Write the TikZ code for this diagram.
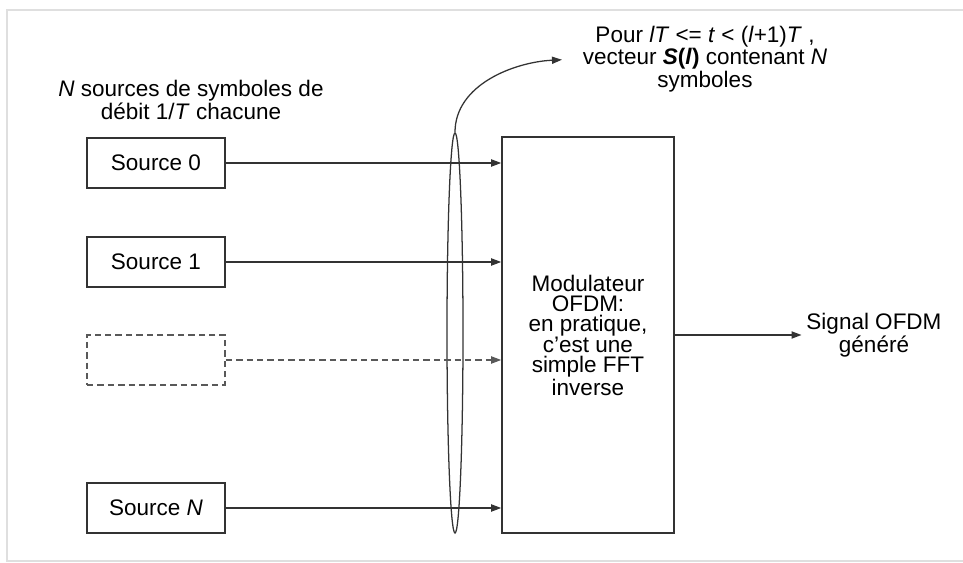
\documentclass[tikz,border=0pt]{standalone}
\usepackage{fontspec}
\setmainfont{Liberation Sans}
\usepackage{tikz}
\usetikzlibrary{arrows.meta, positioning, shapes.geometric}

\begin{document}
\begin{tikzpicture}[
	x=0.025cm, y=-0.025cm,
	font=\fontsize{16}{14.5}\selectfont,
	source/.style={
		rectangle,
		draw=black!80,
		line width=1.1pt,
		minimum width=3.45cm,
		minimum height=1.25cm,
		text centered,
		align=center
	},
	link/.style={
		draw=black!80,
		line width=0.9pt,
		-{Triangle[length=0.25cm,width=0.18cm]}
	},
	dashedline/.style={
		draw=black!65,
		dash pattern=on 0.16cm off 0.1cm
	}
	]
	
	% Frame
	\useasboundingbox (0,0) rectangle (963,563);
	\draw[gray!25, line width=1.5pt] (963,10) -- (7,10) -- (7,561) -- (963,561);
	
	% Sources
	\node[align=center] (title) at (191,100)
	{\textit{N} sources de symboles de\\ débit 1/\textit{T} chacune};
	
	\node[source] (src0) at (156,163) {Source 0};
	\node[source] (src1) at (156,262) {Source 1};
	\node[source, dashedline] (srcdots) at (156,360) {};
	\node[source] (srcN) at (156,508) {Source \textit{N}};
	
	% Modulator
	\node[source, minimum width=4.3cm, minimum height=9.9cm] (mod) at (588,335)
	{Modulateur\\ OFDM:\\ en pratique,\\ c'est une\\ simple FFT\\ inverse};
	
	\node[align=center] (sig) at (874,335) {Signal OFDM\\ généré};
	
	% Symbol vector
	\node[draw=black!80, line width=0.9pt, ellipse, inner sep=0pt,
	minimum width=0.4cm, minimum height=10cm] (bundle) at (455,333) {};
	
	\node[align=center] (vec) at (705,59)
	{Pour \textit{lT} <= \textit{t} < (\textit{l}+1)\textit{T} ,\\
		vecteur \textbf{\textit{S}(\textit{l})} contenant \textit{N}\\ symboles};
	
	% Arrows
	\draw[link] (src0.east) -- (src0.east -| mod.west);
	\draw[link] (src1.east) -- (src1.east -| mod.west);
	\draw[link, dashedline] (srcdots.east) -- (srcdots.east -| mod.west);
	\draw[link] (srcN.east) -- (srcN.east -| mod.west);
	\draw[link] (mod.east) -- (sig.west);
	\draw[link, shorten >=0.4cm] (bundle.north) .. controls +(0,-48) and +(-63,3) .. (vec.west);
	
\end{tikzpicture}
\end{document}
